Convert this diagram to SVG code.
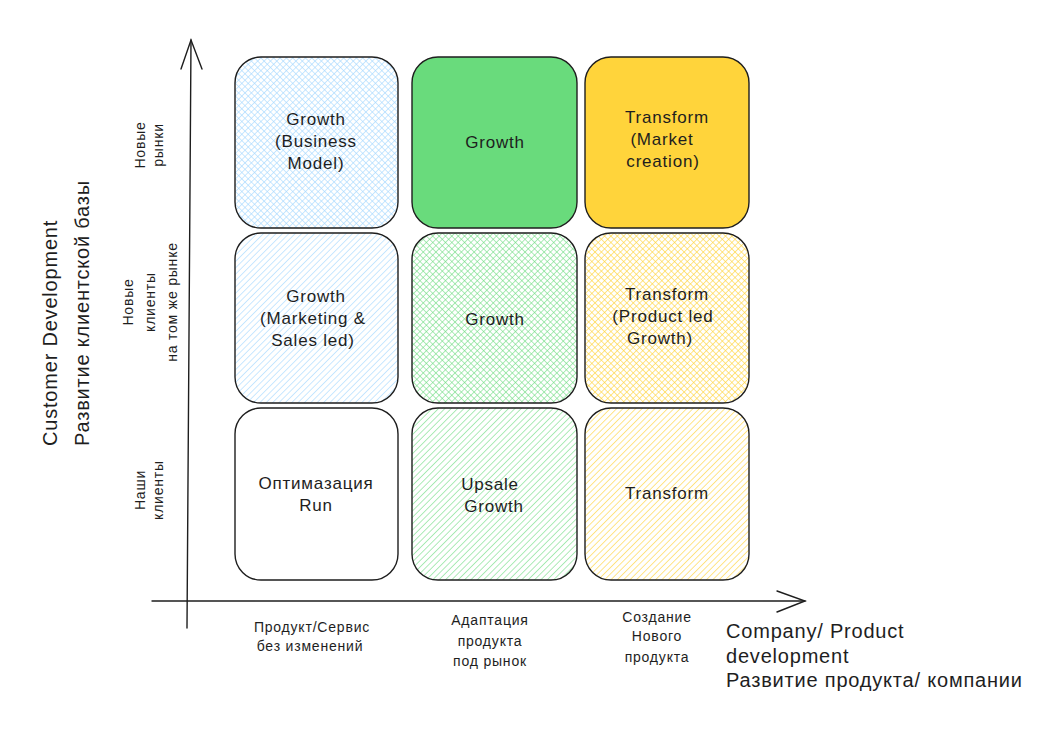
<svg xmlns="http://www.w3.org/2000/svg" width="1057" height="733" viewBox="0 0 1057 733">
<defs>
<pattern id="hBlue" width="4.5" height="4.5" patternUnits="userSpaceOnUse" patternTransform="rotate(45)"><line x1="0" y1="0" x2="0" y2="4.5" stroke="#a5d8ff" stroke-width="1.2"/></pattern>
<pattern id="xBlue" width="4.5" height="4.5" patternUnits="userSpaceOnUse" patternTransform="rotate(45)"><line x1="0" y1="0" x2="0" y2="4.5" stroke="#a5d8ff" stroke-width="1.2"/><line x1="0" y1="0" x2="4.5" y2="0" stroke="#a5d8ff" stroke-width="1.2"/></pattern>
<pattern id="hGreen" width="4.5" height="4.5" patternUnits="userSpaceOnUse" patternTransform="rotate(45)"><line x1="0" y1="0" x2="0" y2="4.5" stroke="#69db7c" stroke-width="1.1"/></pattern>
<pattern id="xGreen" width="4.5" height="4.5" patternUnits="userSpaceOnUse" patternTransform="rotate(45)"><line x1="0" y1="0" x2="0" y2="4.5" stroke="#69db7c" stroke-width="1.1"/><line x1="0" y1="0" x2="4.5" y2="0" stroke="#69db7c" stroke-width="1.1"/></pattern>
<pattern id="hYellow" width="4.5" height="4.5" patternUnits="userSpaceOnUse" patternTransform="rotate(45)"><line x1="0" y1="0" x2="0" y2="4.5" stroke="#ffd43b" stroke-width="1.2"/></pattern>
<pattern id="xYellow" width="4.5" height="4.5" patternUnits="userSpaceOnUse" patternTransform="rotate(45)"><line x1="0" y1="0" x2="0" y2="4.5" stroke="#ffd43b" stroke-width="1.2"/><line x1="0" y1="0" x2="4.5" y2="0" stroke="#ffd43b" stroke-width="1.2"/></pattern>
</defs>
<style>
.box{stroke:#1e1e1e;stroke-width:1.4}
.t{font-family:"Liberation Sans",Arial,sans-serif;font-size:17px;letter-spacing:0.8px;fill:#1e1e1e;text-anchor:middle;dominant-baseline:central}
.s{font-family:"Liberation Sans",Arial,sans-serif;font-size:14px;letter-spacing:0.8px;fill:#1e1e1e;text-anchor:middle;dominant-baseline:central}
.b{font-family:"Liberation Sans",Arial,sans-serif;font-size:20px;letter-spacing:0.8px;fill:#1e1e1e;dominant-baseline:central}
.ax{stroke:#1e1e1e;stroke-width:1.4;fill:none;stroke-linecap:round}
</style>
<rect width="1057" height="733" fill="#ffffff"/>
<g id="connectors">
<path class="ax" d="M187 628 L191 40"/>
<path class="ax" d="M181 69 L191 40 L202 69"/>
<path class="ax" d="M152 601 L805 601"/>
<path class="ax" d="M777 591 L805 601 L777 612"/>
</g>
<g id="n11"><rect class="box" x="235" y="57" width="163" height="171" rx="26" fill="url(#xBlue)"/>
<text class="t" x="316" y="119">Growth</text><text class="t" x="316" y="141">(Business</text><text class="t" x="316" y="163">Model)</text></g>
<g id="n12"><rect class="box" x="412" y="57" width="165" height="171" rx="26" fill="#69db7c"/>
<text class="t" x="495" y="142">Growth</text></g>
<g id="n13"><rect class="box" x="585" y="57" width="164" height="171" rx="26" fill="#ffd43b"/>
<text class="t" x="667" y="117">Transform</text><text class="t" x="662" y="139">(Market</text><text class="t" x="663" y="161">creation)</text></g>
<g id="n21"><rect class="box" x="235" y="233" width="163" height="170" rx="26" fill="url(#hBlue)"/>
<text class="t" x="316" y="296">Growth</text><text class="t" x="313" y="318">(Marketing &amp;</text><text class="t" x="313" y="340">Sales led)</text></g>
<g id="n22"><rect class="box" x="412" y="233" width="165" height="170" rx="26" fill="url(#xGreen)"/>
<text class="t" x="495" y="319">Growth</text></g>
<g id="n23"><rect class="box" x="585" y="233" width="164" height="170" rx="26" fill="url(#xYellow)"/>
<text class="t" x="667" y="294">Transform</text><text class="t" x="663" y="316">(Product led</text><text class="t" x="660" y="338">Growth)</text></g>
<g id="n31"><rect class="box" x="235" y="408" width="163" height="172" rx="26" fill="#ffffff"/>
<text class="t" x="316" y="483">Оптимазация</text><text class="t" x="316" y="505">Run</text></g>
<g id="n32"><rect class="box" x="412" y="408" width="165" height="172" rx="26" fill="url(#hGreen)"/>
<text class="t" x="490" y="484">Upsale</text><text class="t" x="494" y="506">Growth</text></g>
<g id="n33"><rect class="box" x="585" y="408" width="164" height="172" rx="26" fill="url(#hYellow)"/>
<text class="t" x="667" y="493">Transform</text></g>
<g id="yTitle">
<text class="b" transform="translate(50 446) rotate(-90)">Customer Development</text>
<text class="b" transform="translate(82 446) rotate(-90)">Развитие клиентской базы</text>
</g>
<g id="yLabels">
<text class="s" transform="translate(140 145) rotate(-90)">Новые</text>
<text class="s" transform="translate(158 145) rotate(-90)">рынки</text>
<text class="s" transform="translate(128 302) rotate(-90)">Новые</text>
<text class="s" transform="translate(150 302) rotate(-90)">клиенты</text>
<text class="s" transform="translate(172 302) rotate(-90)">на том же рынке</text>
<text class="s" transform="translate(140 490) rotate(-90)">Наши</text>
<text class="s" transform="translate(158 490) rotate(-90)">клиенты</text>
</g>
<g id="xLabels">
<text class="s" x="312" y="627">Продукт/Сервис</text>
<text class="s" x="310" y="646">без изменений</text>
<text class="s" x="490" y="620">Адаптация</text>
<text class="s" x="490" y="641">продукта</text>
<text class="s" x="490" y="661">под рынок</text>
<text class="s" x="657" y="617">Создание</text>
<text class="s" x="657" y="636">Нового</text>
<text class="s" x="657" y="657">продукта</text>
</g>
<g id="xTitle">
<text class="b" x="726" y="631">Company/ Product</text>
<text class="b" x="726" y="656">development</text>
<text class="b" x="726" y="680">Развитие продукта/ компании</text>
</g>
</svg>
